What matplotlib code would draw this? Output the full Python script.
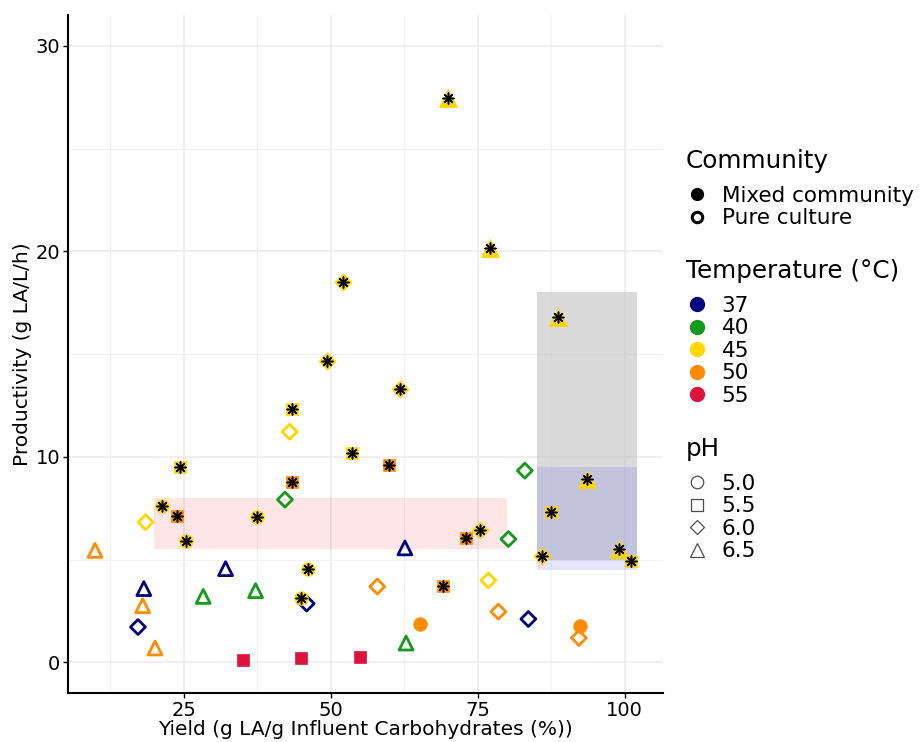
import matplotlib
matplotlib.use("Agg")
import matplotlib.pyplot as plt
from matplotlib.lines import Line2D
from matplotlib.patches import Rectangle
from matplotlib.ticker import MultipleLocator

plt.rcParams['font.family'] = ['DejaVu Sans']

# ---------------- data ----------------
yield_pct = [43.0, 42.2, 18.5, 9.9, 32.1, 18.2, 28.3, 37.2, 45.9, 18.0, 17.2, 20.1,
             57.9, 83.0, 80.2, 62.6, 76.8, 78.5, 83.6, 92.2, 62.8,
             43.4, 53.6, 24.4, 43.4, 21.3, 23.9, 37.4, 25.3, 46.1, 44.9,
             35.0, 45.0, 55.0, 61.8, 59.9, 93.5, 87.4, 75.4, 73.0, 85.9,
             99.0, 101.0, 69.1, 65.2, 92.4, 70.0, 77.1, 52.1, 88.7, 49.3]
productivity = [11.22, 7.92, 6.82, 5.45, 4.56, 3.59, 3.21, 3.49, 2.86, 2.76, 1.72, 0.70,
                3.69, 9.33, 6.00, 5.57, 3.99, 2.47, 2.11, 1.19, 0.94,
                12.34, 10.19, 9.49, 8.78, 7.63, 7.14, 7.06, 5.92, 4.53, 3.13,
                0.13, 0.20, 0.24, 13.28, 9.59, 8.90, 7.32, 6.43, 6.05, 5.16,
                5.52, 4.95, 3.72, 1.88, 1.79, 27.48, 20.17, 18.50, 16.82, 14.65]
temperature = [45, 40, 45, 50, 37, 37, 40, 40, 37, 50, 37, 50,
               50, 40, 40, 37, 45, 50, 37, 50, 40,
               45, 45, 45, 50, 45, 50, 45, 45, 45, 45,
               55, 55, 55, 45, 50, 45, 45, 45, 50, 45,
               45, 45, 50, 50, 50, 45, 45, 45, 45, 45]
ph = [6.0, 6.0, 6.0, 6.5, 6.5, 6.5, 6.5, 6.5, 6.0, 6.5, 6.0, 6.5,
      6.0, 6.0, 6.0, 6.5, 6.0, 6.0, 6.0, 6.0, 6.5,
      5.5, 5.5, 5.5, 5.5, 5.0, 5.5, 5.0, 5.0, 5.0, 5.0,
      5.5, 5.5, 5.5, 6.0, 5.5, 6.5, 5.5, 6.0, 5.5, 6.0,
      6.5, 5.5, 5.5, 5.0, 5.0, 6.5, 6.5, 6.0, 6.5, 6.0]
community = ["Pure culture"] * 21 + ["Mixed community"] * 30
flagged = [False] * 21 + [True] * 10 + [False] * 3 + [True] * 10 + [False] * 2 + [True] * 5

temp_levels = [37, 40, 45, 50, 55]
ph_levels = [5.0, 5.5, 6.0, 6.5]
community_levels = ["Mixed community", "Pure culture"]

# shaded regions: (x0, x1, y0, y1)
region_pink = (20, 80, 5.5, 8)
region_gray = (85, 102, 5, 18)
region_blue = (85, 102, 4.5, 9.5)

# ---------------- styles ----------------
temp_colors = {37: "#000080", 40: "#139b1b", 45: "#ffd700", 50: "#ff8c00", 55: "#dc143c"}
ph_markers = {5.0: "o", 5.5: "s", 6.0: "D", 6.5: "^"}
filled_size = {5.0: 9.8, 5.5: 9.2, 6.0: 8.8, 6.5: 13.0}
hollow_size = {5.0: 9.0, 5.5: 8.5, 6.0: 7.6, 6.5: 10.0}

fig = plt.figure(figsize=(9.21, 7.42), dpi=100)
ax = fig.add_axes([68 / 921, 49 / 742, 595 / 921, 678 / 742])

ax.set_xlim(5.3, 106.5)
ax.set_ylim(-1.49, 31.5)
ax.xaxis.set_major_locator(MultipleLocator(25))
ax.xaxis.set_minor_locator(MultipleLocator(12.5))
ax.yaxis.set_major_locator(MultipleLocator(10))
ax.yaxis.set_minor_locator(MultipleLocator(5))
ax.grid(which="major", color="#ebebeb", linewidth=1.1, zorder=0)
ax.grid(which="minor", color="#f2f2f2", linewidth=0.8, zorder=0)
ax.set_axisbelow(True)
for s in ["top", "right"]:
    ax.spines[s].set_visible(False)
for s in ["left", "bottom"]:
    ax.spines[s].set_linewidth(1.5)
ax.tick_params(which="major", length=3.5, width=1, labelsize=14, colors="black", pad=2)
ax.tick_params(which="minor", length=0)

for (x0, x1, y0, y1), col, a in [(region_pink, "red", 0.1), (region_gray, "#bebebe", 0.57),
                                 (region_blue, "blue", 0.1)]:
    ax.add_patch(Rectangle((x0, y0), x1 - x0, y1 - y0, facecolor=col, alpha=a,
                           edgecolor="none", zorder=1))

# pure culture (hollow) first, then mixed
for comm in ["Pure culture", "Mixed community"]:
    for p in ph_levels:
        for t in temp_levels:
            xs = [x for x, c, pp, tt in zip(yield_pct, community, ph, temperature)
                  if c == comm and pp == p and tt == t]
            ys = [y for y, c, pp, tt in zip(productivity, community, ph, temperature)
                  if c == comm and pp == p and tt == t]
            if not xs:
                continue
            if comm == "Pure culture":
                ax.scatter(xs, ys, marker=ph_markers[p], s=hollow_size[p] ** 2,
                           facecolors="none", edgecolors=temp_colors[t],
                           linewidths=2.0, zorder=3)
            else:
                ax.scatter(xs, ys, marker=ph_markers[p], s=filled_size[p] ** 2,
                           facecolors=temp_colors[t], edgecolors=temp_colors[t],
                           linewidths=0.5, zorder=4)

fx = [x for x, f in zip(yield_pct, flagged) if f]
fy = [y for y, f in zip(productivity, flagged) if f]
ax.scatter(fx, fy, marker=(8, 2, 0), s=8.0 ** 2, color="black", linewidths=1.1, zorder=5)

ax.set_xlabel("Yield (g LA/g Influent Carbohydrates (%))", fontsize=14.5, labelpad=0)
ax.set_ylabel("Productivity (g LA/L/h)", fontsize=14.5, labelpad=3)

# ---------------- legends ----------------
leg_kw = dict(loc="upper left", frameon=False, fontsize=15.5, title_fontsize=17.7,
              borderpad=0, labelspacing=0.12, handlelength=1.0, handletextpad=0.65,
              alignment="left", borderaxespad=0)

h_comm = [Line2D([], [], linestyle="none", marker="o", markersize=8.5,
                 markerfacecolor="black", markeredgecolor="black"),
          Line2D([], [], linestyle="none", marker="o", markersize=7.5,
                 markerfacecolor="none", markeredgecolor="black", markeredgewidth=2.2)]
l1 = fig.legend(h_comm, community_levels, title="Community",
                bbox_to_anchor=(686 / 921, 1 - 149 / 742), **leg_kw)

h_temp = [Line2D([], [], linestyle="none", marker="o", markersize=10,
                 markerfacecolor=temp_colors[t], markeredgecolor=temp_colors[t])
          for t in temp_levels]
l2 = fig.legend(h_temp, [str(t) for t in temp_levels], title="Temperature (°C)",
                bbox_to_anchor=(686 / 921, 1 - 259 / 742), **leg_kw)

h_ph = [Line2D([], [], linestyle="none", marker=ph_markers[p],
               markersize={5.0: 9, 5.5: 8, 6.0: 7.5, 6.5: 10}[p],
               markerfacecolor="none", markeredgecolor="#4d4d4d", markeredgewidth=0.9)
        for p in ph_levels]
l3 = fig.legend(h_ph, [f"{p:.1f}" for p in ph_levels], title="pH",
                bbox_to_anchor=(686 / 921, 1 - 437 / 742), **leg_kw)

for lg in (l1, l2, l3):
    lg._legend_box.sep = 9

fig.savefig("out.png", dpi=100)
